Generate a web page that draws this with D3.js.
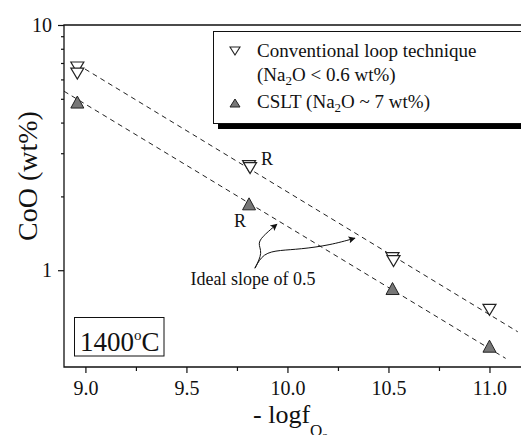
<!DOCTYPE html>
<html>
<head>
<meta charset="utf-8">
<script src="https://cdn.jsdelivr.net/npm/d3@7"></script>
<style>
  body { margin: 0; background: #fff; }
  text { font-family: "Liberation Serif", "Times New Roman", serif; fill: #111; }
</style>
</head>
<body>
<svg id="chart" width="521" height="435"></svg>
<script>
// conventional loop technique (open, down triangles)
var cltX = [8.96, 8.96, 9.81, 9.815, 10.52, 10.525, 11.0]
var cltY = [6.71, 6.34, 2.66, 2.61, 1.12, 1.09, 0.689]
// CSLT (filled, up triangles)
var csltX = [8.96, 9.81, 10.52, 11.0]
var csltY = [4.85, 1.865, 0.842, 0.49]
// dashed guide lines, slope 0.5 (two end points each)
var upperX = [8.96, 11.14]
var upperY = [6.91, 0.561]
var lowerX = [8.894, 11.08]
var lowerY = [5.37, 0.437]
// ticks
var xTicks = [9.0, 9.5, 10.0, 10.5, 11.0]
var xMinor = [9.25, 9.75, 10.25, 10.75]
var yTicks = [1, 10]
var yMinor = [2, 3, 4, 5, 6, 7, 8, 9]
// annotation arrows (data units)
var arrow1 = [[9.839, 1.019], [9.879, 1.184], [9.849, 1.289], [9.889, 1.403], [9.948, 1.541]]
var arrow2 = [[9.839, 1.019], [9.879, 1.173], [9.963, 1.207], [10.062, 1.218], [10.21, 1.265], [10.334, 1.351]]

var plotL = 64, plotR = 521.8, plotT = 25, plotB = 367;
var serif = '"Liberation Serif", "Times New Roman", serif';

const svg = d3.select("#chart");

const x = d3.scaleLinear().domain([8.894, 11.16]).range([plotL, plotR]);
const y = d3.scaleLog().domain([0.403, 10]).range([plotB, plotT]);

// axes
svg.append("g")
  .attr("transform", `translate(0,${plotB})`)
  .call(d3.axisBottom(x).tickValues(xTicks).tickFormat(d3.format(".1f")).tickSize(6).tickPadding(8));
svg.append("g")
  .attr("transform", `translate(0,${plotB})`)
  .call(d3.axisBottom(x).tickValues(xMinor).tickFormat("").tickSize(4));
svg.append("g")
  .attr("transform", `translate(${plotL},0)`)
  .call(d3.axisLeft(y).tickValues(yTicks).tickFormat(d3.format("d")).tickSize(6).tickPadding(6));
svg.append("g")
  .attr("transform", `translate(${plotL},0)`)
  .call(d3.axisLeft(y).tickValues(yMinor).tickFormat("").tickSize(3));

svg.selectAll(".domain").remove();
svg.selectAll(".tick line").attr("stroke", "#111").attr("stroke-width", 1.2);
svg.selectAll(".tick text")
  .attr("font-family", serif).style("font-family", serif)
  .style("font-size", "20px").attr("fill", "#111");

// frame
svg.append("path")
  .attr("d", `M${plotR + 5},${plotT}H${plotL}V${plotB}H${plotR + 5}`)
  .attr("fill", "none").attr("stroke", "#111").attr("stroke-width", 1.3);

// dashed lines
const line = d3.line().x(d => x(d[0])).y(d => y(d[1]));
[[upperX, upperY], [lowerX, lowerY]].forEach(function (l) {
  svg.append("path")
    .attr("d", line(l[0].map((v, i) => [v, l[1][i]])))
    .attr("fill", "none").attr("stroke", "#222").attr("stroke-width", 1)
    .attr("stroke-dasharray", "5,4");
});

function tri(w, h, down) {
  return down
    ? `M${-w / 2},${-h / 2}L${w / 2},${-h / 2}L0,${h / 2}Z`
    : `M0,${-h / 2}L${w / 2},${h / 2}L${-w / 2},${h / 2}Z`;
}

// markers
svg.selectAll(".clt")
  .data(cltX.map((v, i) => [v, cltY[i]]))
  .join("path")
  .attr("class", "clt")
  .attr("transform", d => `translate(${x(d[0])},${y(d[1])})`)
  .attr("d", tri(13, 11, true))
  .attr("fill", "#fff").attr("stroke", "#222").attr("stroke-width", 1.2);

svg.selectAll(".cslt")
  .data(csltX.map((v, i) => [v, csltY[i]]))
  .join("path")
  .attr("class", "cslt")
  .attr("transform", d => `translate(${x(d[0])},${y(d[1])})`)
  .attr("d", tri(13, 12, false))
  .attr("fill", "#777").attr("stroke", "#222").attr("stroke-width", 1);

// R labels
svg.append("text").attr("x", x(cltX[2]) + 12).attr("y", y(cltY[2]) - 1)
  .style("font-size", "18px").text("R");
svg.append("text").attr("x", x(csltX[1]) - 15).attr("y", y(csltY[1]) + 23)
  .style("font-size", "18px").text("R");

// ideal slope annotation
svg.append("defs").append("marker")
  .attr("id", "ah").attr("viewBox", "0 0 10 10").attr("refX", 9).attr("refY", 5)
  .attr("markerWidth", 9).attr("markerHeight", 7).attr("markerUnits", "userSpaceOnUse")
  .attr("orient", "auto")
  .append("path").attr("d", "M0,0L10,5L0,10L2,5Z").attr("fill", "#111");

const curve = d3.line().x(d => x(d[0])).y(d => y(d[1])).curve(d3.curveBasis);
[arrow1, arrow2].forEach(function (a) {
  svg.append("path").attr("d", curve(a))
    .attr("fill", "none").attr("stroke", "#111").attr("stroke-width", 1)
    .attr("marker-end", "url(#ah)");
});
svg.append("text").attr("x", x(9.52)).attr("y", y(0.87))
  .style("font-size", "18px").text("Ideal slope of 0.5");

// temperature box
svg.append("rect").attr("x", 74.5).attr("y", 317.5).attr("width", 89.5).attr("height", 38.5)
  .attr("fill", "#fff").attr("stroke", "#111").attr("stroke-width", 1);
const t = svg.append("text").attr("x", 80).attr("y", 350.5).style("font-size", "27px");
t.append("tspan").text("1400");
t.append("tspan").attr("dy", -11).style("font-size", "15px").text("o");
t.append("tspan").attr("dy", 11).text("C");

// legend
svg.append("rect").attr("x", 218).attr("y", 37).attr("width", 320).attr("height", 92).attr("fill", "#000");
svg.append("rect").attr("x", 213.5).attr("y", 31.5).attr("width", 330).attr("height", 92)
  .attr("fill", "#fff").attr("stroke", "#111").attr("stroke-width", 1);
svg.append("path").attr("transform", "translate(235,51)").attr("d", tri(10, 8, true))
  .attr("fill", "#fff").attr("stroke", "#222").attr("stroke-width", 1.1);
svg.append("path").attr("transform", "translate(235,103)").attr("d", tri(10, 8, false))
  .attr("fill", "#777").attr("stroke", "#222").attr("stroke-width", 1);
svg.append("text").attr("x", 257).attr("y", 57).style("font-size", "19px").text("Conventional loop technique");
const l2 = svg.append("text").attr("x", 257).attr("y", 81).style("font-size", "19px");
l2.append("tspan").text("(Na");
l2.append("tspan").attr("dy", 4).style("font-size", "13px").text("2");
l2.append("tspan").attr("dy", -4).text("O < 0.6 wt%)");
const l3 = svg.append("text").attr("x", 257).attr("y", 107.5).style("font-size", "19px");
l3.append("tspan").text("CSLT (Na");
l3.append("tspan").attr("dy", 4).style("font-size", "13px").text("2");
l3.append("tspan").attr("dy", -4).text("O ~ 7 wt%)");

// axis titles
svg.append("text")
  .attr("transform", "translate(37,176) rotate(-90)")
  .attr("text-anchor", "middle")
  .style("font-size", "28px").text("CoO (wt%)");
const xt = svg.append("text").attr("x", 253).attr("y", 422.5).style("font-size", "26px");
xt.append("tspan").text("- logf");
xt.append("tspan").attr("dy", 13).style("font-size", "17px").text("O");
xt.append("tspan").attr("dy", 6).style("font-size", "12px").text("2");
</script>
</body>
</html>
